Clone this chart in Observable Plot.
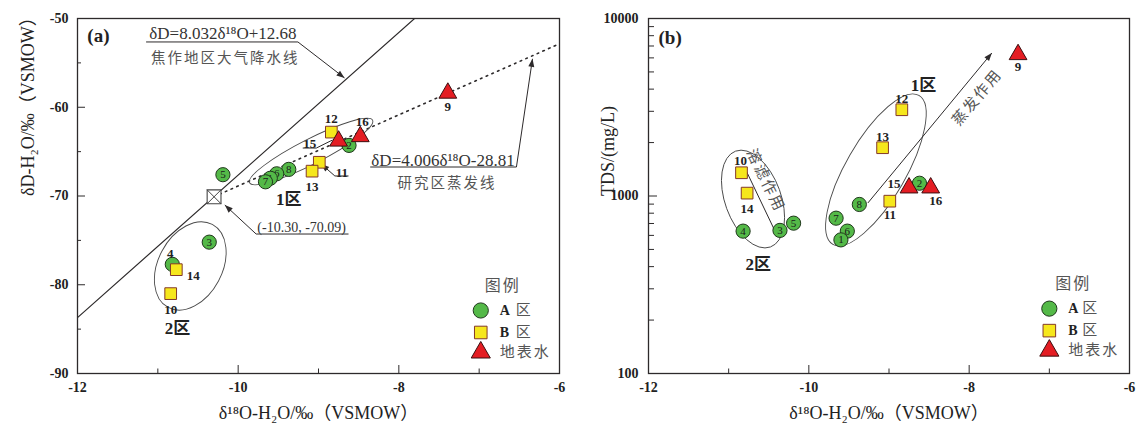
<!DOCTYPE html>
<html lang="zh">
<head>
<meta charset="utf-8">
<script src="https://cdn.jsdelivr.net/npm/d3@7"></script>
<script src="https://cdn.jsdelivr.net/npm/@observablehq/plot@0.6"></script>
<style>
  html, body { margin: 0; padding: 0; background: #fff; }
  #figure { display: flex; width: 1136px; height: 432px; overflow: hidden; background: #fff; }
  #figure svg { display: block; }
</style>
</head>
<body>
<div id="figure"></div>
<script>
// ---- sample data (δ18O, δD and TDS of groundwater / surface water samples) ----
const sampleIds  = ["1","2","3","4","5","6","7","8","9","10","11","12","13","14","15","16"];
const sampleArea = ["A区","A区","A区","A区","A区","A区","A区","A区","地表水","B区","B区","B区","B区","B区","地表水","地表水"];
const delta18O   = [-9.60,-8.62,-10.36,-10.82,-10.19,-9.52,-9.66,-9.37,-7.39,-10.84,-8.99,-8.84,-9.08,-10.77,-8.75,-8.48];
const deltaD     = [-68.0,-64.3,-75.2,-77.7,-67.6,-67.5,-68.4,-67.0,-58.4,-81.0,-66.2,-62.8,-67.2,-78.3,-63.8,-63.3];
const tdsValues  = [566,1180,640,634,703,634,750,896,6270,1352,935,3062,1871,1038,1112,1112];
const areaNames  = ["A区","B区","地表水"];

// reference lines
const mwlSlope = 8.032, mwlIntercept = 12.68;     // 焦作地区大气降水线
const evapSlope = 4.006, evapIntercept = -28.81;  // 研究区蒸发线
const crossPoint = [-10.30, -70.09];

// axis ticks
const xMajor = [-12, -10, -8, -6];
const xMinor = [-11, -9, -7];
const yMajorA = [-90, -80, -70, -60, -50];
const yMinorA = [-85, -75, -65, -55];
const yMajorB = [100, 1000, 10000];
const yMinorB = [200,300,400,500,600,700,800,900,2000,3000,4000,5000,6000,7000,8000,9000];

// ---- styling ----
const serif = "'Liberation Serif','Times New Roman','Noto Sans CJK SC',serif";
const cjk = "'Noto Sans CJK SC','Liberation Serif',sans-serif";
const ink = "#2d2a2b";
const grey = "#555";
const areaStyle = {
  "A区":   {symbol: "circle",   fill: "#54b948", stroke: "#21381d", r: 7.1},
  "B区":   {symbol: "square",   fill: "#f6e71c", stroke: "#83392a", r: 6.6},
  "地表水": {symbol: "triangle", fill: "#e41d23", stroke: "#3b0f10", r: 6.6}
};
const drawOrder = ["2","3","4","5","8","6","1","7","10","11","12","13","14","15","16","9"];

const rows = sampleIds.map((id, i) => ({id, area: sampleArea[i], o18: delta18O[i], d: deltaD[i], tds: tdsValues[i]}));
const ordered = drawOrder.map(id => rows.find(r => r.id === id));

// label offsets (px) for labels drawn beside their symbol
const labelOffsetA = {"4": [-2, -11], "9": [0, 14], "10": [0, 16], "12": [0, -13], "13": [0, 16], "14": [17, 6], "16": [2, -15], "11": null, "15": null};
const labelOffsetB = {"9": [0, 12], "10": [-1, -12], "11": [0, 14], "12": [0, -11], "13": [0, -11], "14": [0, 16], "15": [-15, -4], "16": [5, 13]};

// ---- helpers ----
function ellipse(cx, cy, rx, ry, angle) {
  return (index, {x, y}) => {
    const px = x(cx), py = y(cy);
    return d3.create("svg:ellipse")
      .attr("cx", px).attr("cy", py).attr("rx", rx).attr("ry", ry)
      .attr("transform", `rotate(${angle},${px},${py})`)
      .attr("fill", "none").attr("stroke", "#4a4a4a").attr("stroke-width", 0.9)
      .node();
  };
}

function leader(xs, ys, head) {
  return (index, {x, y}) => {
    const pts = xs.map((v, i) => [x(v), y(ys[i])]);
    const g = d3.create("svg:g");
    g.append("path").attr("d", d3.line()(pts)).attr("fill", "none")
      .attr("stroke", ink).attr("stroke-width", 1);
    if (head) {
      const [x0, y0] = pts[pts.length - 2], [x1, y1] = pts[pts.length - 1];
      const a = Math.atan2(y1 - y0, x1 - x0), L = 8, w = 3;
      const bx = x1 - L * Math.cos(a), by = y1 - L * Math.sin(a);
      const nx = -Math.sin(a) * w, ny = Math.cos(a) * w;
      g.append("path").attr("d", `M${x1},${y1}L${bx + nx},${by + ny}L${bx - nx},${by - ny}Z`).attr("fill", ink);
    }
    return g.node();
  };
}

function pointMarks(yKey, offsets) {
  const marks = [];
  for (const r of ordered) {
    const s = areaStyle[r.area];
    marks.push(Plot.dot([r], {x: "o18", y: yKey, symbol: s.symbol, r: s.r, fill: s.fill, stroke: s.stroke, strokeWidth: 1}));
    if (r.area === "A区" && !(r.id in offsets)) {
      marks.push(Plot.text([r], {x: "o18", y: yKey, text: "id", fontSize: 11, fill: "#1a1a1a", fontFamily: serif}));
    }
  }
  for (const r of ordered) {
    const o = offsets[r.id];
    if (!o) continue;
    marks.push(Plot.text([r], {x: "o18", y: yKey, text: "id", dx: o[0], dy: o[1], fontSize: 13, fontWeight: "bold", fill: "#222", fontFamily: serif}));
  }
  return marks;
}

function legendMarks(lx, ly, dxs) {
  const rowsDy = [0, 22, 42];
  const marks = [
    Plot.text(["图例"], {x: () => lx, y: () => ly, dx: dxs.title, dy: -25, fontSize: 16, fill: grey, fontFamily: cjk, ariaDescription: "spaced"})
  ];
  areaNames.forEach((name, i) => {
    const s = areaStyle[name];
    marks.push(Plot.dot([name], {x: () => lx, y: () => ly, dy: rowsDy[i], symbol: s.symbol, r: s.r + 0.5, fill: s.fill, stroke: s.stroke, strokeWidth: 1}));
    if (name === "地表水") {
      marks.push(Plot.text([name], {x: () => lx, y: () => ly, dx: 19, dy: rowsDy[i], textAnchor: "start", fontSize: 15, fill: grey, fontFamily: cjk, ariaDescription: "spaced"}));
    } else {
      marks.push(Plot.text([name[0]], {x: () => lx, y: () => ly, dx: 19, dy: rowsDy[i], textAnchor: "start", fontSize: 14, fontWeight: "bold", fill: "#222", fontFamily: serif}));
      marks.push(Plot.text([name[1]], {x: () => lx, y: () => ly, dx: dxs.zone, dy: rowsDy[i], textAnchor: "start", fontSize: 15, fill: grey, fontFamily: cjk}));
    }
  });
  return marks;
}

function frameMarks(innerW, innerH, yMajor, yMinor, majorLen, minorLen) {
  return [
    Plot.ruleX(xMajor, {x: d => d, insetTop: innerH - 8, stroke: ink, strokeWidth: 1}),
    Plot.ruleX(xMinor, {x: d => d, insetTop: innerH - 4.5, stroke: ink, strokeWidth: 1}),
    Plot.ruleY(yMajor, {y: d => d, insetRight: innerW - majorLen, stroke: ink, strokeWidth: 1}),
    Plot.ruleY(yMinor, {y: d => d, insetRight: innerW - minorLen, stroke: ink, strokeWidth: 1}),
    Plot.axisX({ticks: xMajor, tickSize: 0, tickPadding: 9, tickFormat: d => String(d), fontSize: 14, fontWeight: "bold", fontFamily: serif, fill: "#222", label: null}),
    Plot.frame({stroke: ink, strokeWidth: 1.3})
  ];
}

// widen the spacing of the Chinese annotation texts
function spaceText(svg, px) {
  d3.select(svg).selectAll('[aria-description="spaced"] text').attr("letter-spacing", px + "px");
  return svg;
}

const W = 568, H = 432, MT = 18, MB = 59;

// ---- (a) δD vs δ18O ----
const panelA = Plot.plot({
  width: W, height: H, marginLeft: 77, marginRight: 9, marginTop: MT, marginBottom: MB,
  style: {fontFamily: serif, background: "#fff", color: ink, overflow: "visible"},
  x: {domain: [-12, -6]},
  y: {domain: [-90, -50]},
  marks: [
    Plot.line([-12, -6], {x: d => d, y: d => mwlSlope * d + mwlIntercept, stroke: ink, strokeWidth: 1.2, clip: true}),
    Plot.line([crossPoint[0], -6], {x: d => d, y: d => evapSlope * d + evapIntercept, stroke: ink, strokeWidth: 1.6, strokeDasharray: "1.6,4.6", clip: true}),
    ellipse(-9.086, -65.04, 69, 12.5, -27),
    ellipse(-10.59, -77.94, 47, 32, -62),
    leader([-11.14, -9.25, -8.67], [-52.70, -52.70, -56.75], true),
    leader([-8.35, -6.53, -6.33], [-66.79, -66.79, -54.6], true),
    leader([-8.62, -9.77, -10.16], [-74.34, -74.34, -71.07], true),
    leader([-8.62, -8.79, -8.96], [-67.8, -67.8, -66.45], true),
    leader([-9.19, -9.02, -8.82], [-64.65, -64.65, -63.75], false),
    Plot.dot([crossPoint], {x: d => d[0], y: d => d[1], symbol: "square", r: 7.8, fill: "#fff", stroke: "#444", strokeWidth: 1.1}),
    Plot.dot([crossPoint], {x: d => d[0], y: d => d[1], symbol: "times", r: 6.4, stroke: "#444", strokeWidth: 1}),
    ...pointMarks("d", labelOffsetA),
    Plot.text(["11"], {x: () => -8.71, y: () => -67.35, fontSize: 13, fontWeight: "bold", fill: "#222", fontFamily: serif}),
    Plot.text(["15"], {x: () => -9.11, y: () => -64.08, fontSize: 13, fontWeight: "bold", fill: "#222", fontFamily: serif}),
    Plot.text(["δD=8.032δ¹⁸O+12.68"], {x: () => -10.19, y: () => -51.75, fontSize: 17, fill: "#333", fontFamily: serif}),
    Plot.text(["焦作地区大气降水线"], {x: () => -10.16, y: () => -54.5, fontSize: 14.5, fill: grey, fontFamily: cjk, ariaDescription: "spaced"}),
    Plot.text(["δD=4.006δ¹⁸O-28.81"], {x: () => -7.45, y: () => -66.0, fontSize: 17, fill: "#333", fontFamily: serif}),
    Plot.text(["研究区蒸发线"], {x: () => -7.40, y: () => -68.6, fontSize: 14.5, fill: grey, fontFamily: cjk, ariaDescription: "spaced"}),
    Plot.text([`(${crossPoint[0].toFixed(2)}, ${crossPoint[1].toFixed(2)})`], {x: () => -9.21, y: () => -73.55, fontSize: 14, fill: "#333", fontFamily: serif}),
    Plot.text(["1区"], {x: () => -9.37, y: () => -70.4, fontSize: 17, fontWeight: "bold", fill: "#222", fontFamily: serif}),
    Plot.text(["2区"], {x: () => -10.755, y: () => -84.93, fontSize: 17, fontWeight: "bold", fill: "#222", fontFamily: serif}),
    Plot.text(["(a)"], {x: () => -11.74, y: () => -52.0, fontSize: 19, fontWeight: "bold", fill: "#222", fontFamily: serif}),
    ...legendMarks(-6.98, -82.9, {title: 22, zone: 35}),
    Plot.axisY({ticks: yMajorA, tickSize: 0, tickPadding: 9, tickFormat: d => String(d), fontSize: 14, fontWeight: "bold", fontFamily: serif, fill: "#222", label: null}),
    ...frameMarks(482, 355, yMajorA, yMinorA, 8, 4),
    Plot.text(["δ¹⁸O-H₂O/‰（VSMOW）"], {frameAnchor: "bottom", dy: 45, fontSize: 18, fill: "#222", fontFamily: serif}),
    Plot.text(["δD-H₂O/‰（VSMOW）"], {frameAnchor: "left", dx: -49, rotate: -90, fontSize: 18, fill: "#222", fontFamily: serif})
  ]
});

// ---- (b) TDS vs δ18O ----
const panelB = Plot.plot({
  width: W, height: H, marginLeft: 80, marginRight: 7, marginTop: MT, marginBottom: MB,
  style: {fontFamily: serif, background: "#fff", color: ink, overflow: "visible"},
  x: {domain: [-12, -6]},
  y: {type: "log", domain: [100, 10000]},
  marks: [
    ellipse(-10.69, 955, 51, 28, 70),
    ellipse(-9.157, 1393, 86, 30, -60),
    leader([-10.78, -10.38], [1393, 583], false),
    leader([-9.257, -7.711], [908, 6350], true),
    ...pointMarks("tds", labelOffsetB),
    Plot.text(["蒸发作用"], {x: () => -7.90, y: () => 3590, rotate: -50, fontSize: 15, fill: grey, fontFamily: cjk, ariaDescription: "spaced"}),
    Plot.text(["溶滤作用"], {x: () => -10.54, y: () => 1222, rotate: 64, fontSize: 15, fill: grey, fontFamily: cjk, ariaDescription: "spaced"}),
    Plot.text(["1区"], {x: () => -8.57, y: () => 4195, fontSize: 17, fontWeight: "bold", fill: "#222", fontFamily: serif}),
    Plot.text(["2区"], {x: () => -10.63, y: () => 411, fontSize: 17, fontWeight: "bold", fill: "#222", fontFamily: serif}),
    Plot.text(["(b)"], {x: () => -11.73, y: () => 7818, fontSize: 19, fontWeight: "bold", fill: "#222", fontFamily: serif}),
    ...legendMarks(-7.00, 232, {title: 24, zone: 33}),
    Plot.axisY({ticks: yMajorB, tickSize: 0, tickPadding: 10, tickFormat: d => String(d), fontSize: 14, fontWeight: "bold", fontFamily: serif, fill: "#222", label: null}),
    ...frameMarks(481, 355, yMajorB, yMinorB, 9, 6),
    Plot.text(["δ¹⁸O-H₂O/‰（VSMOW）"], {frameAnchor: "bottom", dy: 45, fontSize: 18, fill: "#222", fontFamily: serif}),
    Plot.text(["TDS/(mg/L)"], {frameAnchor: "left", dx: -40, rotate: -90, fontSize: 18, fill: "#222", fontFamily: serif})
  ]
});

const fig = document.getElementById("figure");
fig.append(spaceText(panelA, 2), spaceText(panelB, 2));
</script>
</body>
</html>
